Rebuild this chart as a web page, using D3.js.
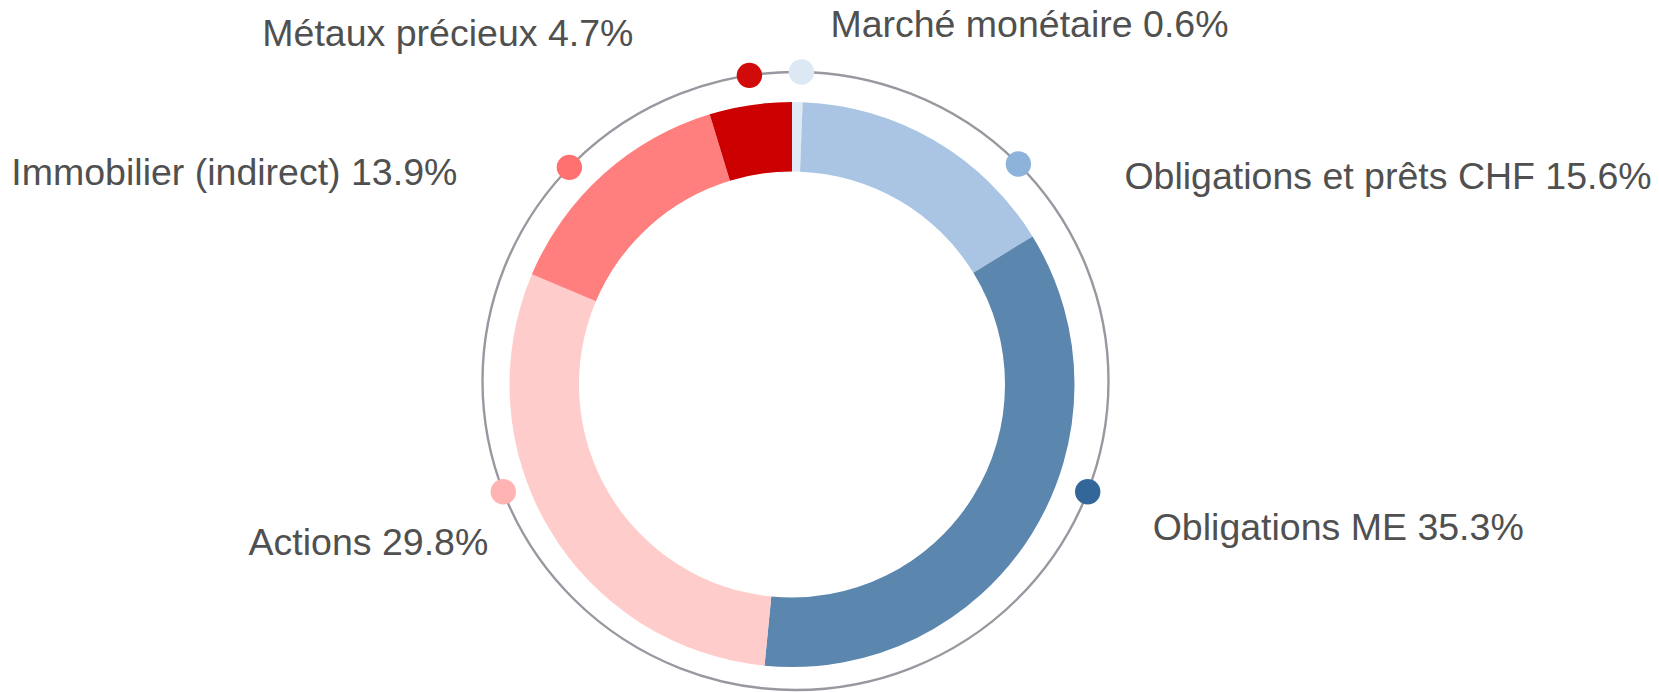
<!DOCTYPE html>
<html>
<head>
<meta charset="utf-8">
<script src="https://cdn.jsdelivr.net/npm/d3@7"></script>
<style>
  body { margin: 0; background: #fff; }
  text { font-family: "Liberation Sans", Arial, sans-serif; }
</style>
</head>
<body>
<div id="chart"></div>
<script>
  // data
  const categories = ["Marché monétaire", "Obligations et prêts CHF", "Obligations ME", "Actions", "Immobilier (indirect)", "Métaux précieux"];
  const shares = [0.6, 15.6, 35.3, 29.8, 13.9, 4.7];

  // colours (slice / dot)
  const sliceColors = ["#dfeaf6", "#a9c5e3", "#5b86ae", "#ffcccc", "#ff7f7f", "#cc0000"];
  const dotColors = ["#dde8f5", "#8db3db", "#336699", "#ffb3b3", "#ff7070", "#d10a0a"];

  // annotation offsets from each dot to its label (dx, dy to text anchor / baseline)
  const labelOffsets = [[29, -35], [106, 25], [65, 48], [-15, 63], [-112, 18], [-116, -29]];

  const width = 1659;
  const height = 692;
  const donut = {cx: 792, cy: 384.5, inner: 213, outer: 282.5};
  const ring = {cx: 795.5, cy: 381, rx: 313, ry: 309};
  const dotRadius = 12.7;
  const maxLabelAngle = 111 * Math.PI / 180;
  const minDotGap = 92;

  const data = categories.map((c, i) => ({category: c, value: shares[i]}));

  const color = d3.scaleOrdinal(categories, sliceColors);
  const dotColor = d3.scaleOrdinal(categories, dotColors);

  const svg = d3.select("#chart").append("svg")
                .attr("width", width)
                .attr("height", height);

  // outer ring line
  svg.append("ellipse")
     .attr("cx", ring.cx)
     .attr("cy", ring.cy)
     .attr("rx", ring.rx)
     .attr("ry", ring.ry)
     .attr("fill", "none")
     .attr("stroke", "#9b97a0")
     .attr("stroke-width", 2.4);

  // donut
  const pie = d3.pie().sort(null).value(d => d.value);
  const arcs = pie(data);

  const arc = d3.arc()
                .innerRadius(donut.inner)
                .outerRadius(donut.outer);

  svg.append("g")
     .attr("transform", `translate(${donut.cx},${donut.cy})`)
    .selectAll("path")
    .data(arcs)
    .join("path")
     .attr("d", arc)
     .attr("fill", d => color(d.data.category));

  // place dots on the ring: start at mid angle, keep away from the bottom,
  // then push down so dots on the same side keep a vertical gap
  function layoutDots(arcs) {
    const pts = arcs.map((a, i) => {
      let t = (a.startAngle + a.endAngle) / 2;
      if (t > Math.PI) t -= 2 * Math.PI;
      return {i, side: t < 0 ? -1 : 1, t: Math.min(Math.abs(t), maxLabelAngle)};
    });

    [-1, 1].forEach(side => {
      let prevY = -Infinity;
      pts.filter(p => p.side === side)
         .sort((a, b) => a.t - b.t)
         .forEach(p => {
           let y = ring.cy - ring.ry * Math.cos(p.t);
           if (y < prevY + minDotGap) {
             y = prevY + minDotGap;
             p.t = Math.acos((ring.cy - y) / ring.ry);
           }
           prevY = y;
         });
    });

    pts.forEach(p => {
      p.x = ring.cx + p.side * ring.rx * Math.sin(p.t);
      p.y = ring.cy - ring.ry * Math.cos(p.t);
    });
    return pts;
  }

  const dots = layoutDots(arcs);

  svg.append("g")
    .selectAll("circle")
    .data(dots)
    .join("circle")
     .attr("cx", d => d.x)
     .attr("cy", d => d.y)
     .attr("r", dotRadius)
     .attr("fill", d => dotColor(categories[d.i]));

  // labels
  svg.append("g")
    .selectAll("text")
    .data(dots)
    .join("text")
     .attr("x", d => d.x + labelOffsets[d.i][0])
     .attr("y", d => d.y + labelOffsets[d.i][1])
     .attr("text-anchor", d => d.side > 0 ? "start" : "end")
     .attr("font-size", 37.5)
     .attr("fill", "#505050")
     .text(d => `${categories[d.i]} ${d3.format(".1f")(shares[d.i])}%`);
</script>
</body>
</html>
